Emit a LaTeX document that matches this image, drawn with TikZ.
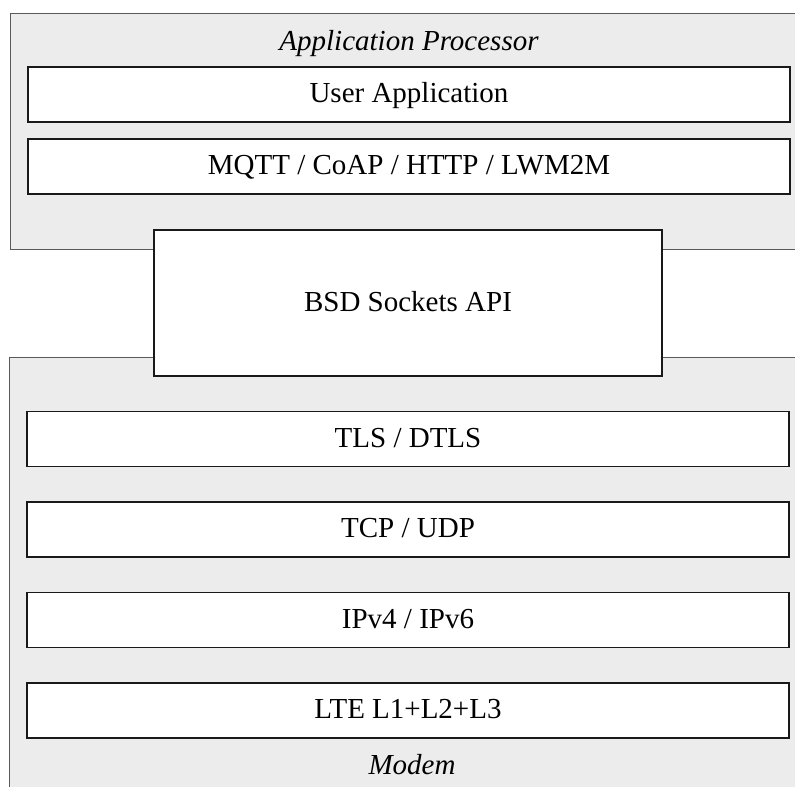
\documentclass[tikz,border=0pt]{standalone}
\usepackage{fontspec}
\setmainfont{Liberation Serif}
\begin{document}
\begin{tikzpicture}[x=1pt,y=-1pt,
  framefill/.style={fill=black!7.5,draw=none},
  frameline/.style={draw=black!65,line width=1pt},
  layer/.style={draw=black!90,line width=1.3pt,fill=white,
    minimum width=762pt,minimum height=55pt,inner sep=0pt,
    text height=18pt,text depth=2pt,
    font=\fontsize{29}{34}\selectfont},
  caption/.style={inner sep=0pt,anchor=base,
    font=\fontsize{29}{34}\selectfont\itshape}]
  \useasboundingbox (0,0) rectangle (795,787);

  % Application processor frame (open on the right)
  \fill[framefill] (10,13) rectangle (795,249);
  \draw[frameline] (795,13) -- (10,13) -- (10,249) -- (795,249);
  \node[caption] (aplabel) at (409,50) {Application Processor};
  \node[layer] (userapp) at (409,94.5) {User Application};
  \node[layer] (mqtt) at (409,166.5) {MQTT / CoAP / HTTP / LWM2M};

  % Modem frame (open on the right and at the bottom)
  \fill[framefill] (9,357) rectangle (795,787);
  \draw[frameline] (795,357) -- (9,357) -- (9,787);
  \node[layer] (tls) at (408,439) {TLS / DTLS};
  \node[layer] (tcp) at (408,529.5) {TCP / UDP};
  \node[layer] (ip) at (408,620) {IPv4 / IPv6};
  \node[layer] (lte) at (408,710.5) {LTE L1+L2+L3};
  \node[caption] (modemlabel) at (412,774) {Modem};

  % Socket interface bridging both frames
  \node[layer,minimum width=508pt,minimum height=146pt] (bsd) at (408,303) {BSD Sockets API};
\end{tikzpicture}
\end{document}
